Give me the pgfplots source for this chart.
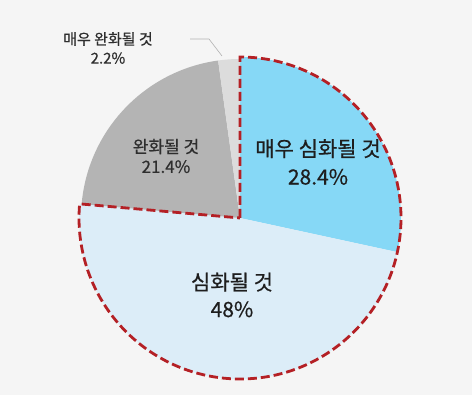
\documentclass[border=0pt]{standalone}
\usepackage{fontspec}
\setmainfont{Noto Sans CJK KR}[FakeBold=0.6]
\usepackage{pgfplots}
\pgfplotsset{compat=1.18}
\definecolor{bg}{HTML}{F5F5F5}
\definecolor{sliceA}{HTML}{86D8F6}
\definecolor{sliceB}{HTML}{DCEDF8}
\definecolor{sliceC}{HTML}{B4B4B4}
\definecolor{sliceD}{HTML}{DCDCDC}
\definecolor{dashred}{HTML}{B42025}
\definecolor{txt}{HTML}{1E1E1E}
\definecolor{txtg}{HTML}{2E2E2E}
\begin{document}
\begin{tikzpicture}
\begin{axis}[width=472pt,height=395pt,scale only axis,
  xmin=0,xmax=472,ymin=0,ymax=395,hide axis,clip=false]
\fill[bg] (axis cs:0,0) rectangle (axis cs:472,395);
% values: 28.4 (매우 심화될 것), 48 (심화될 것), 21.4 (완화될 것), 2.2 (매우 완화될 것)
\fill[sliceA] (axis cs:240,177) -- ++(90:161pt) arc[start angle=90, delta angle=-3.6*28.4, radius=161pt] -- cycle;
\fill[sliceB] (axis cs:240,177) -- ++(90-3.6*28.4:161pt) arc[start angle=90-3.6*28.4, delta angle=-3.6*48, radius=161pt] -- cycle;
\fill[sliceC] (axis cs:240,177) -- ++(90-3.6*76.4:159pt) arc[start angle=90-3.6*76.4, delta angle=-3.6*21.4, radius=159pt] -- cycle;
\fill[sliceD] (axis cs:240,177) -- ++(90-3.6*97.8:159pt) arc[start angle=90-3.6*97.8, delta angle=-3.6*2.2, radius=159pt] -- cycle;
\draw[dashred, line width=2.8pt, dash pattern=on 9pt off 4pt, line join=miter]
  (axis cs:240,177) -- ++(90:161pt) arc[start angle=90, delta angle=-3.6*76.4, radius=161pt] -- cycle;
\draw[black!30, line width=0.6pt] (axis cs:190,356) -- (axis cs:209,356) -- (axis cs:222,339);
\node[align=center, text=txt, font=\fontsize{21}{28}\selectfont] at (axis cs:318,233) {매우 심화될 것\\28.4\%};
\node[align=center, text=txt, font=\fontsize{21}{27}\selectfont] at (axis cs:232,100) {심화될 것\\48\%};
\node[align=center, text=txtg, font=\fontsize{17}{20}\selectfont] at (axis cs:166,239) {완화될 것\\21.4\%};
\node[align=center, text=txtg, font=\fontsize{15}{19}\selectfont] at (axis cs:108,347) {매우 완화될 것\\2.2\%};
\end{axis}
\end{tikzpicture}
\end{document}
